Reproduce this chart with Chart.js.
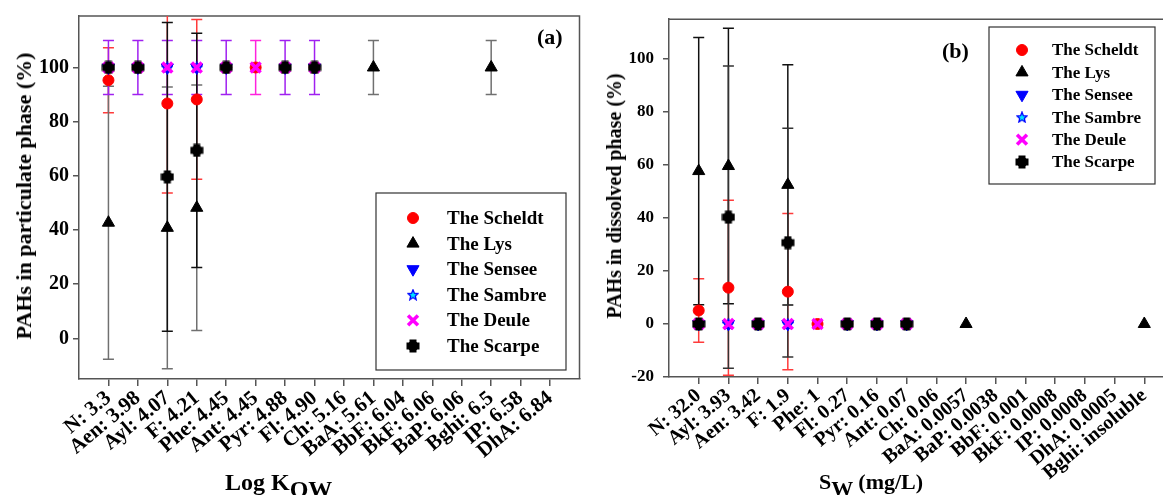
<!DOCTYPE html>
<html>
<head>
<meta charset="utf-8">
<script src="https://cdn.jsdelivr.net/npm/chart.js@4.4.1/dist/chart.umd.min.js"></script>
<style>
  body { margin: 0; width: 1163px; height: 495px; overflow: hidden; background: #fff; position: relative;
         font-family: "Liberation Serif", "Times New Roman", serif; font-weight: bold; color: #000; }
  canvas { position: absolute; top: 0; }
  #cA { left: 0; }
  #cB { left: 590px; }
  .lbl { position: absolute; white-space: nowrap; line-height: 1; }
  .ytitle { transform: translate(-50%, -50%) rotate(-90deg); }
  .sub { position: relative; top: 7px; }
</style>
</head>
<body>
<canvas id="cA" width="590" height="495"></canvas>
<canvas id="cB" width="600" height="495"></canvas>

<div class="lbl ytitle" style="left:24px;top:196px;font-size:22px">PAHs in particulate phase (%)</div>
<div class="lbl ytitle" style="left:614px;top:196px;font-size:20px">PAHs in dissolved phase (%)</div>
<div class="lbl" style="left:225px;top:470px;font-size:24px">Log K<span class="sub">OW</span></div>
<div class="lbl" style="left:819px;top:471px;font-size:22px">S<span class="sub">W</span> (mg/L)</div>
<div class="lbl" style="left:537px;top:26px;font-size:22px">(a)</div>
<div class="lbl" style="left:942px;top:40px;font-size:22px">(b)</div>

<script>
const seriesNames = ['The Scheldt', 'The Lys', 'The Sensee', 'The Sambre', 'The Deule', 'The Scarpe'];

// panel (a): log Kow
const categoriesA = ['N: 3.3', 'Aen: 3.98', 'Ayl: 4.07', 'F: 4.21', 'Phe: 4.45', 'Ant: 4.45', 'Pyr: 4.88', 'Fl: 4.90',
  'Ch: 5.16', 'BaA: 5.61', 'BbF: 6.04', 'BkF: 6.06', 'BaP: 6.06', 'Bghi: 6.5', 'IP: 6.58', 'DhA: 6.84'];
const yTicksA = [0, 20, 40, 60, 80, 100];
const scheldtA    = [95.3, 100, 86.7, 88.2, 100, 100, 100, 100, null, null, null, null, null, null, null, null];
const scheldtErrA = [12, 0, 33, 29.5, 0, 0, 0, 0, 0, 0, 0, 0, 0, 0, 0, 0];
const lysA        = [42.7, null, 40.8, 48.2, null, null, null, null, null, 100, null, null, null, 100, null, null];
const lysErrA     = [50.4, 0, 52, 45.3, 0, 0, 0, 0, 0, 10, 0, 0, 0, 10, 0, 0];
const senseeA     = [100, 100, 100, 100, 100, null, 100, 100, null, null, null, null, null, null, null, null];
const senseeErrA  = [10, 10, 10, 10, 10, 0, 10, 10, 0, 0, 0, 0, 0, 0, 0, 0];
const sambreA     = [100, 100, 100, 100, 100, null, 100, 100, null, null, null, null, null, null, null, null];
const deuleA      = [100, 100, 100, 100, 100, 100, 100, 100, null, null, null, null, null, null, null, null];
const deuleErrA   = [0, 0, 0, 0, 0, 10, 0, 0, 0, 0, 0, 0, 0, 0, 0, 0];
const scarpeA     = [100, 100, 59.6, 69.4, 100, null, 100, 100, null, null, null, null, null, null, null, null];
const scarpeErrA  = [0, 0, 57, 43.2, 0, 0, 0, 0, 0, 0, 0, 0, 0, 0, 0, 0];

// panel (b): water solubility
const categoriesB = ['N: 32.0', 'Ayl: 3.93', 'Aen: 3.42', 'F: 1.9', 'Phe: 1', 'Fl: 0.27', 'Pyr: 0.16', 'Ant: 0.07',
  'Ch: 0.06', 'BaA: 0.0057', 'BaP: 0.0038', 'BbF: 0.001', 'BkF: 0.0008', 'IP: 0.0008', 'DhA: 0.0005', 'Bghi: insoluble'];
const yTicksB = [-20, 0, 20, 40, 60, 80, 100];
const scheldtB    = [5.1, 13.7, 0, 12.2, 0, 0, 0, 0, null, null, null, null, null, null, null, null];
const scheldtErrB = [12, 33, 0, 29.5, 0, 0, 0, 0, 0, 0, 0, 0, 0, 0, 0, 0];
const lysB        = [57.7, 59.6, null, 52.5, null, null, null, null, null, 0, null, null, null, null, null, 0];
const lysErrB     = [50.4, 52, 0, 45.3, 0, 0, 0, 0, 0, 0, 0, 0, 0, 0, 0, 0];
const senseeB     = [0, 0, 0, 0, null, 0, 0, 0, null, null, null, null, null, null, null, null];
const sambreB     = [0, 0, 0, 0, null, 0, 0, 0, null, null, null, null, null, null, null, null];
const deuleB      = [0, 0, 0, 0, 0, 0, 0, 0, null, null, null, null, null, null, null, null];
const scarpeB     = [0, 40.3, 0, 30.7, null, 0, 0, 0, null, null, null, null, null, null, null, null];
const scarpeErrB  = [0, 57, 0, 43.2, 0, 0, 0, 0, 0, 0, 0, 0, 0, 0, 0, 0];

// custom marker images
function makeStar() {
  const c = document.createElement('canvas');
  c.width = 12; c.height = 12;
  const g = c.getContext('2d');
  g.beginPath();
  for (let k = 0; k < 10; k++) {
    const r = k % 2 ? 2.4 : 5.4;
    const a = -Math.PI / 2 + k * Math.PI / 5;
    g.lineTo(6 + r * Math.cos(a), 6.4 + r * Math.sin(a));
  }
  g.closePath();
  g.fillStyle = '#00e5ff';
  g.fill();
  g.lineWidth = 1.3;
  g.strokeStyle = '#0000ff';
  g.stroke();
  return c;
}
function makeClub() {
  const c = document.createElement('canvas');
  c.width = 14; c.height = 14;
  const g = c.getContext('2d');
  g.fillStyle = '#000';
  g.fillRect(0.5, 3.5, 13, 7);
  g.fillRect(3.5, 0.5, 7, 13);
  g.beginPath();
  g.arc(7, 7, 5.3, 0, Math.PI * 2);
  g.fill();
  return c;
}
const starImg = makeStar();
const clubImg = makeClub();

const markers = [
  { pointStyle: 'circle', radius: 5.5, rotation: 0, fill: '#ff0000', stroke: '#ff0000', borderWidth: 1 },
  { pointStyle: 'triangle', radius: 7, rotation: 0, fill: '#000000', stroke: '#000000', borderWidth: 1 },
  { pointStyle: 'triangle', radius: 7, rotation: 180, fill: '#0000ff', stroke: '#0000ff', borderWidth: 1 },
  { pointStyle: starImg, radius: 6, rotation: 0, fill: '#00e5ff', stroke: '#0000ff', borderWidth: 1 },
  { pointStyle: 'crossRot', radius: 7, rotation: 0, fill: '#ff00ff', stroke: '#ff00ff', borderWidth: 3.5 },
  { pointStyle: clubImg, radius: 7, rotation: 0, fill: '#000000', stroke: '#000000', borderWidth: 1 },
];
// Scarpe on top, Scheldt underneath
const drawOrder = [5, 4, 3, 2, 1, 0];

function buildDatasets(values, errors, errorColors) {
  return values.map((vals, s) => ({
    label: seriesNames[s],
    data: vals.map((v, i) => (v == null ? null : { x: i, y: v })).filter(Boolean),
    errors: errors[s],
    errorColor: errorColors[s],
    showLine: false,
    order: drawOrder[s],
    pointStyle: markers[s].pointStyle,
    pointRadius: markers[s].radius,
    pointHoverRadius: markers[s].radius,
    pointRotation: markers[s].rotation,
    pointBackgroundColor: markers[s].fill,
    pointBorderColor: markers[s].stroke,
    pointBorderWidth: markers[s].borderWidth,
  }));
}

const errorBarPlugin = {
  id: 'errorBars',
  beforeDatasetsDraw(chart) {
    const { ctx, chartArea: a, scales: { x, y } } = chart;
    ctx.save();
    ctx.beginPath();
    ctx.rect(a.left, a.top, a.right - a.left, a.bottom - a.top);
    ctx.clip();
    ctx.lineWidth = 1.5;
    chart.data.datasets.forEach(ds => {
      if (!ds.errors) return;
      ctx.strokeStyle = ds.errorColor;
      ds.data.forEach(p => {
        const e = ds.errors[p.x];
        if (!e) return;
        const px = x.getPixelForValue(p.x);
        const top = y.getPixelForValue(p.y + e);
        const bot = y.getPixelForValue(p.y - e);
        ctx.beginPath();
        ctx.moveTo(px, top); ctx.lineTo(px, bot);
        ctx.moveTo(px - 5.5, top); ctx.lineTo(px + 5.5, top);
        ctx.moveTo(px - 5.5, bot); ctx.lineTo(px + 5.5, bot);
        ctx.stroke();
      });
    });
    ctx.restore();
  },
};

const framePlugin = {
  id: 'frame',
  beforeDatasetsDraw(chart) {
    const { ctx, chartArea: a } = chart;
    ctx.save();
    ctx.strokeStyle = '#555';
    ctx.lineWidth = 1.5;
    ctx.beginPath();
    ctx.moveTo(a.left, a.top); ctx.lineTo(a.right, a.top); ctx.lineTo(a.right, a.bottom);
    ctx.stroke();
    ctx.restore();
  },
};

const boxLegendPlugin = {
  id: 'boxLegend',
  afterDraw(chart, args, opts) {
    const { ctx } = chart;
    ctx.save();
    ctx.strokeStyle = '#333';
    ctx.lineWidth = 1.2;
    ctx.strokeRect(opts.left, opts.top, opts.width, opts.height);
    ctx.font = `bold ${opts.fontSize}px "Liberation Serif", serif`;
    ctx.textBaseline = 'middle';
    seriesNames.forEach((name, s) => {
      const yy = opts.firstRow + s * opts.rowStep;
      const m = markers[s];
      ctx.fillStyle = m.fill;
      ctx.strokeStyle = m.stroke;
      ctx.lineWidth = m.borderWidth;
      Chart.helpers.drawPoint(ctx, { pointStyle: m.pointStyle, radius: m.radius, rotation: m.rotation, borderWidth: m.borderWidth }, opts.markerX, yy);
      ctx.fillStyle = '#000';
      ctx.fillText(name, opts.textX, yy + 1);
    });
    ctx.restore();
  },
};

function makeScales(labels, yMin, yMax, yTicks, yFont, yPad, xFont, xHeight) {
  return {
    x: {
      type: 'linear', min: -1, max: labels.length,
      afterBuildTicks: s => { s.ticks = labels.map((_, i) => ({ value: i })); },
      afterFit: s => { s.height = xHeight; },
      grid: { drawOnChartArea: false, tickLength: 7, color: '#555', lineWidth: 1.5 },
      border: { color: '#555', width: 1.5 },
      ticks: {
        autoSkip: false, minRotation: 40, maxRotation: 40, padding: 0, color: '#000',
        font: { family: '"Liberation Serif", serif', weight: 'bold', size: xFont },
        callback: v => labels[v],
      },
    },
    y: {
      min: yMin, max: yMax,
      afterBuildTicks: s => { s.ticks = yTicks.map(v => ({ value: v })); },
      afterFit: s => { s.width = 79; },
      grid: { drawOnChartArea: false, tickLength: 6, color: '#555', lineWidth: 1.5 },
      border: { color: '#555', width: 1.5 },
      ticks: {
        padding: yPad, color: '#000',
        font: { family: '"Liberation Serif", serif', weight: 'bold', size: yFont },
      },
    },
  };
}

new Chart(document.getElementById('cA'), {
  type: 'scatter',
  data: {
    datasets: buildDatasets(
      [scheldtA, lysA, senseeA, sambreA, deuleA, scarpeA],
      [scheldtErrA, lysErrA, senseeErrA, null, deuleErrA, scarpeErrA],
      ['#ff3b3b', '#707070', '#a020f0', '#a020f0', '#ff22dd', '#111'])
  },
  options: {
    responsive: false, animation: false,
    layout: { padding: { left: 0, top: 14, right: 4, bottom: 0 } },
    scales: makeScales(categoriesA, -15, 119, yTicksA, 20, 4, 21, 116),
    plugins: {
      legend: { display: false }, tooltip: { enabled: false },
      boxLegend: { left: 376, top: 193, width: 190, height: 177, firstRow: 218, rowStep: 25.6, markerX: 413, textX: 447, fontSize: 19 },
    },
  },
  plugins: [framePlugin, errorBarPlugin, boxLegendPlugin],
});

new Chart(document.getElementById('cB'), {
  type: 'scatter',
  data: {
    datasets: buildDatasets(
      [scheldtB, lysB, senseeB, sambreB, deuleB, scarpeB],
      [scheldtErrB, lysErrB, null, null, null, scarpeErrB],
      ['#ff3b3b', '#111', '#a020f0', '#a020f0', '#ff22dd', '#333'])
  },
  options: {
    responsive: false, animation: false,
    layout: { padding: { left: 0, top: 15, right: 16, bottom: 0 } },
    scales: makeScales(categoriesB, -20, 115, yTicksB, 17, 9, 20, 118),
    plugins: {
      legend: { display: false }, tooltip: { enabled: false },
      boxLegend: { left: 399, top: 27, width: 166, height: 157, firstRow: 50, rowStep: 22.4, markerX: 432, textX: 462, fontSize: 17 },
    },
  },
  plugins: [framePlugin, errorBarPlugin, boxLegendPlugin],
});
</script>
</body>
</html>
